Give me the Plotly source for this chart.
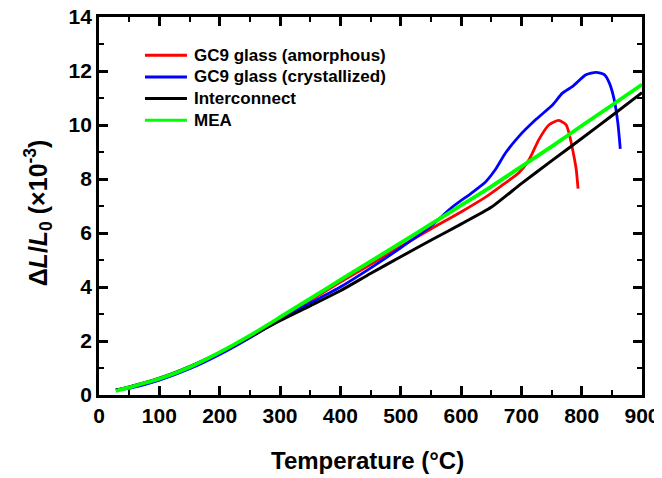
import plotly.graph_objects as go

# ---- data ----
mea_T = [28, 50, 100, 150, 200, 250, 300, 350, 400, 450, 500, 550, 600, 650, 700, 750, 800, 850, 900]
mea_y = [0.15, 0.28, 0.6, 1.03, 1.58, 2.2, 2.88, 3.57, 4.26, 4.95, 5.63, 6.33, 7.02, 7.72, 8.46, 9.2, 9.97, 10.73, 11.5]

inter_T = [28, 50, 100, 150, 200, 250, 300, 350, 400, 450, 500, 550, 600, 650, 700, 750, 800, 850, 900]
inter_y = [0.18, 0.3, 0.62, 1.05, 1.57, 2.15, 2.75, 3.3, 3.86, 4.5, 5.12, 5.73, 6.33, 6.95, 7.83, 8.67, 9.5, 10.34, 11.2]

amor_T = [28, 50, 100, 150, 200, 250, 300, 350, 400, 450, 500, 550, 600, 640, 670, 696, 713, 729, 746, 762, 774, 779, 785, 791, 794]
amor_y = [0.18, 0.29, 0.6, 1.03, 1.57, 2.17, 2.82, 3.5, 4.18, 4.83, 5.5, 6.15, 6.78, 7.32, 7.8, 8.23, 8.72, 9.46, 10.01, 10.17, 10.01, 9.7, 9.09, 8.35, 7.64]

cryst_T = [28, 50, 100, 150, 200, 250, 300, 350, 400, 450, 500, 550, 585, 618, 641, 657, 674, 696, 724, 752, 768, 785, 807, 824, 838, 846, 854, 860, 864]
cryst_y = [0.2, 0.25, 0.55, 0.97, 1.5, 2.12, 2.8, 3.4, 4.0, 4.7, 5.45, 6.25, 6.95, 7.49, 7.9, 8.35, 8.97, 9.58, 10.2, 10.75, 11.18, 11.43, 11.86, 11.95, 11.86, 11.55, 10.93, 10.07, 9.12]

x_ticks = [0, 100, 200, 300, 400, 500, 600, 700, 800, 900]
y_ticks = [0, 2, 4, 6, 8, 10, 12, 14]

series_names = ["GC9 glass (amorphous)", "GC9 glass (crystallized)", "Interconnect", "MEA"]
series_colors = ["#ff0000", "#0000ff", "#000000", "#00ff00"]
series_widths = [2.8, 2.8, 3.0, 3.8]
series_T = [amor_T, cryst_T, inter_T, mea_T]
series_y = [amor_y, cryst_y, inter_y, mea_y]
# the last series goes on the overlay (top/right) axes so that those axes are drawn
series_axes = [("x", "y"), ("x", "y"), ("x", "y"), ("x2", "y2")]

FONT = "Arial, Liberation Sans, sans-serif"

fig = go.Figure()
for name, color, w, xs, ys, (xa, ya) in zip(series_names, series_colors, series_widths,
                                             series_T, series_y, series_axes):
    fig.add_trace(go.Scatter(x=xs, y=ys, mode="lines", name=name, showlegend=False,
                             xaxis=xa, yaxis=ya,
                             line=dict(color=color, width=w, shape="spline", smoothing=0.6)))

# legend drawn in paper coordinates (line sample + label), one row per series
leg_x0, leg_x1, leg_tx = 0.0847, 0.162, 0.171   # paper x
leg_top, leg_step = 0.899, 0.0574               # paper y of first row, row spacing
for i, (name, color, w) in enumerate(zip(series_names, series_colors, series_widths)):
    yy = leg_top - i * leg_step
    fig.add_shape(type="line", xref="paper", yref="paper", x0=leg_x0, x1=leg_x1, y0=yy, y1=yy,
                  line=dict(color=color, width=3))
    fig.add_annotation(xref="paper", yref="paper", x=leg_tx, y=yy, text=name, showarrow=False,
                       xanchor="left", yanchor="middle",
                       font=dict(family=FONT, size=17, color="black", weight="bold"))

# axis titles
fig.add_annotation(xref="paper", yref="paper", x=0.4936, y=-0.172, text="Temperature (°C)",
                   showarrow=False, xanchor="center", yanchor="middle",
                   font=dict(family=FONT, size=24, color="black", weight="bold"))
fig.add_annotation(xref="paper", yref="paper", x=-0.112, y=0.481,
                   text="Δ<i>L</i>/<i>L</i><sub>0</sub> (×10<sup>-3</sup>)",
                   showarrow=False, xanchor="center", yanchor="middle", textangle=-90,
                   font=dict(family=FONT, size=25, color="black", weight="bold"))

axis_common = dict(
    showline=True, linecolor="black", linewidth=2.8, mirror="allticks",
    ticks="inside", ticklen=9, tickwidth=2.6, tickcolor="black",
    showgrid=False, zeroline=False, automargin=False, ticklabeloverflow="allow",
    tickfont=dict(family=FONT, size=21, color="black", weight="bold"),
)
x_minor = dict(ticks="inside", ticklen=5, tickwidth=2.4, tickcolor="black", dtick=50, tick0=0, showgrid=False)
y_minor = dict(ticks="inside", ticklen=5, tickwidth=2.4, tickcolor="black", dtick=1, tick0=0, showgrid=False)

fig.update_layout(
    xaxis=dict(range=[0, 900], tickvals=x_ticks, ticktext=[str(v) for v in x_ticks],
               minor=x_minor, **axis_common),
    yaxis=dict(range=[0, 14], tickvals=y_ticks, ticktext=[str(v) for v in y_ticks],
               minor=y_minor, **axis_common),
    xaxis2=dict(overlaying="x", side="top", anchor="y2", range=[0, 900], tickvals=x_ticks,
                showticklabels=False, minor=x_minor,
                showline=True, linecolor="black", linewidth=2.8,
                ticks="inside", ticklen=9, tickwidth=2.6, tickcolor="black",
                showgrid=False, zeroline=False, automargin=False),
    yaxis2=dict(overlaying="y", side="right", anchor="x2", range=[0, 14], tickvals=y_ticks,
                showticklabels=False, minor=y_minor,
                showline=True, linecolor="black", linewidth=2.8,
                ticks="inside", ticklen=9, tickwidth=2.6, tickcolor="black",
                showgrid=False, zeroline=False, automargin=False),
)

# the page body offsets the figure by 8 px, so margins are shifted accordingly
fig.update_layout(
    width=662, height=478,
    margin=dict(l=91, r=28, t=9, b=91),
    plot_bgcolor="white", paper_bgcolor="white",
    showlegend=False,
)

fig.write_html("out.html")
